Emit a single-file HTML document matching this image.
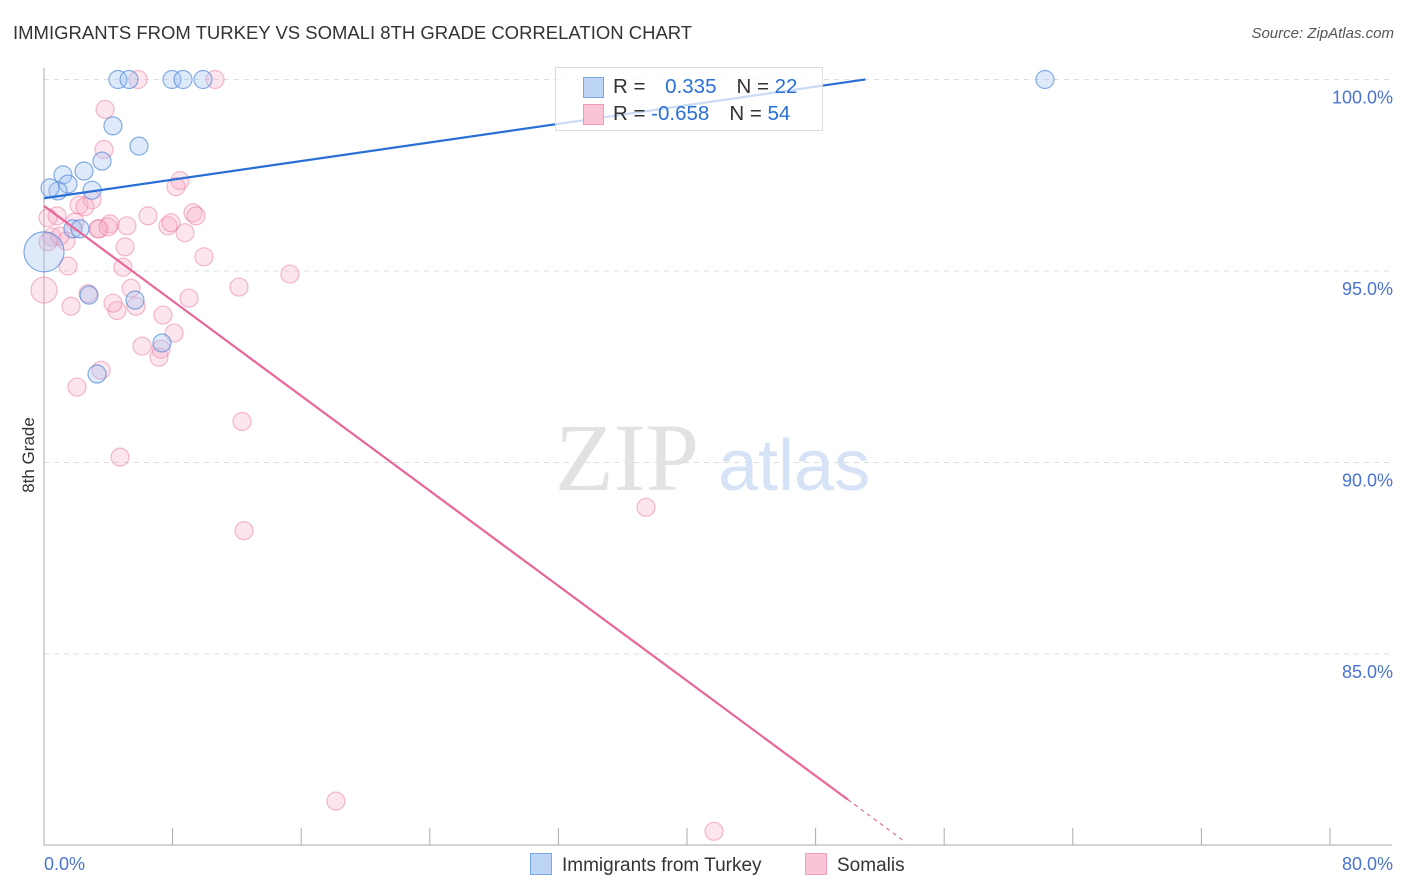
<!DOCTYPE html>
<html><head><meta charset="utf-8"><style>
body{margin:0;background:#fff;font-family:"Liberation Sans",sans-serif}
#wrap{position:relative;width:1406px;height:892px}
.t{position:absolute;white-space:nowrap}
</style></head><body>
<div id="wrap">
<div class="t" style="left:13px;top:22px;font-size:18.5px;color:#333">IMMIGRANTS FROM TURKEY VS SOMALI 8TH GRADE CORRELATION CHART</div>
<div class="t" style="right:12px;top:25px;font-size:15px;color:#555;font-style:italic">Source: ZipAtlas.com</div>
<svg id="svg" width="1406" height="892" style="position:absolute;left:0;top:0"></svg>
</div>
<script>
const xTicks=[0,8,16,24,32,40,48,56,64,72,80];
const yTicks=[100,95,90,85];
const yTickLabels=["100.0%","95.0%","90.0%","85.0%"];
const turkeyX=[4.6,5.29,7.96,8.65,9.89,62.27,4.29,5.91,1.18,2.49,3.61,1.49,2.99,0.87,0.37,1.8,2.24,2.8,5.66,7.34,3.3,0];
const turkeyY=[100,100,100,100,100,100,98.79,98.26,97.51,97.61,97.87,97.27,97.11,97.09,97.17,96.1,96.1,94.37,94.24,93.12,92.31,95.5];
const somaliX=[5.85,10.64,3.8,3.73,8.46,8.21,0.81,2.18,2.99,2.55,4.1,3.36,5.16,6.47,7.71,7.9,8.77,9.27,9.46,9.95,1.37,0.5,0.25,5.04,1.49,4.91,0,1.68,2.74,4.54,5.72,5.41,4.29,9.02,12.13,15.3,7.4,8.09,6.1,7.15,7.28,3.55,2.05,4.73,12.32,12.44,37.45,18.16,41.68,3.42,1.93,0.99,0.25,3.98];
const somaliY=[100,100,99.22,98.17,97.36,97.2,96.44,96.72,96.86,96.68,96.23,96.1,96.18,96.44,96.18,96.26,96.0,96.52,96.44,95.37,95.78,95.89,95.76,95.63,95.13,95.1,94.5,94.08,94.41,93.97,94.08,94.55,94.16,94.29,94.58,94.92,93.85,93.38,93.04,92.75,92.96,92.41,91.97,90.14,91.07,88.22,88.83,81.16,80.37,96.1,96.28,95.91,96.39,96.15];
const turkeyR=[9,9,9,9,9,9,9,9,9,9,9,9,9,9,9,9,9,9,9,9,9,20];
const turkeyLine=[96.9,0.0607];
const somaliLine=[96.7,-0.31];
const X=v=>44+v/80*1286, Y=v=>79.5+(100-v)*38.3;
const svg=document.getElementById('svg');const NS='http://www.w3.org/2000/svg';
function mk(t,a,p){const e=document.createElementNS(NS,t);for(const k in a)e.setAttribute(k,a[k]);(p||svg).appendChild(e);return e;}
yTicks.forEach((v,i)=>{
 const g=mk('line',{x1:44,x2:1392,y1:Y(v),y2:Y(v),stroke:'#ddd','stroke-dasharray':'5,5'});
 
 
 const t=mk('text',{x:1393,y:Y(v)+24,'text-anchor':'end','font-size':18,fill:'#4a74d0','font-family':'Liberation Sans, sans-serif'});
 t.textContent=yTickLabels[i];
 
 
});
const ax=mk('line',{x1:44,x2:44,y1:68,y2:845,stroke:'#aaa'});


const bx=mk('line',{x1:44,x2:1392,y1:845,y2:845,stroke:'#aaa'});


xTicks.forEach(v=>{const l=mk('line',{x1:X(v),x2:X(v),y1:828,y2:845,stroke:'#aaa'});
 
 });
[[0,'0.0%','start',44],[80,'80.0%','end',1393]].forEach(a=>{const t=mk('text',{x:a[3],y:870,'text-anchor':a[2],'font-size':18,fill:'#4a74d0','font-family':'Liberation Sans, sans-serif'});t.textContent=a[1];
 
 });
const yt=mk('text',{x:0,y:0,transform:'translate(34,455) rotate(-90)','text-anchor':'middle','font-size':17,fill:'#333','font-family':'Liberation Sans, sans-serif'});yt.textContent='8th Grade';


const wm=mk('text',{x:555,y:490,'font-size':96,fill:'#e2e2e2','font-family':'Liberation Serif, serif'});wm.textContent='ZIP';


const wm2=mk('text',{x:718,y:490,'font-size':72,fill:'#d6e2f5','font-family':'Liberation Sans, sans-serif'});wm2.textContent='atlas';


somaliX.forEach((x,i)=>{const c=mk('circle',{cx:X(x),cy:Y(somaliY[i]),r:i==26?13:9,fill:'rgba(247,170,195,0.3)',stroke:'rgba(232,120,160,0.5)','stroke-width':1.2});
 
 });
turkeyX.forEach((x,i)=>{const c=mk('circle',{cx:X(x),cy:Y(turkeyY[i]),r:turkeyR[i],fill:'rgba(160,195,240,0.35)',stroke:'rgba(70,130,215,0.65)','stroke-width':1.2});
 
 });
const tl=mk('line',{x1:X(0),y1:Y(turkeyLine[0]),x2:X(51.1),y2:Y(turkeyLine[0]+turkeyLine[1]*51.1),stroke:'#2a6fd6','stroke-width':2.2});


const sl=mk('line',{x1:X(0),y1:Y(somaliLine[0]),x2:X(50),y2:Y(somaliLine[0]+somaliLine[1]*50),stroke:'#e8659a','stroke-width':2.2});


const sd=mk('line',{x1:X(50),y1:Y(somaliLine[0]+somaliLine[1]*50),x2:X(53.6),y2:Y(somaliLine[0]+somaliLine[1]*53.6),stroke:'#e8659a','stroke-width':1.2,'stroke-dasharray':'4,4'});


</script>
<div class="t" style="left:555px;top:67px;width:266px;height:62px;border:1px solid #ddd;background:rgba(255,255,255,0.75);font-size:20.5px;color:#333">
 <div style="position:absolute;left:27px;top:9px;width:19px;height:19px;background:#bcd4f5;border:1px solid #7aa7e6"></div>
 <div style="position:absolute;left:27px;top:36px;width:19px;height:19px;background:#f9c4d5;border:1px solid #ee9ab8"></div>
 <div style="position:absolute;left:57px;top:7px">R = <span style="color:#2a6fd6;margin-left:14px">0.335</span><span style="margin-left:20px">N = </span><span style="color:#2a6fd6">22</span></div>
 <div style="position:absolute;left:57px;top:34px">R = <span style="color:#2a6fd6">-0.658</span><span style="margin-left:20px">N = </span><span style="color:#2a6fd6">54</span></div>
</div>
<div class="t" style="left:530px;top:853px;font-size:19px;color:#333"><span style="display:inline-block;width:20px;height:20px;background:#bcd4f5;border:1px solid #7aa7e6;vertical-align:-4px;margin-right:10px"></span>Immigrants from Turkey</div>
<div class="t" style="left:805px;top:853px;font-size:19px;color:#333"><span style="display:inline-block;width:20px;height:20px;background:#f9c4d5;border:1px solid #ee9ab8;vertical-align:-4px;margin-right:10px"></span>Somalis</div>
</body></html>
